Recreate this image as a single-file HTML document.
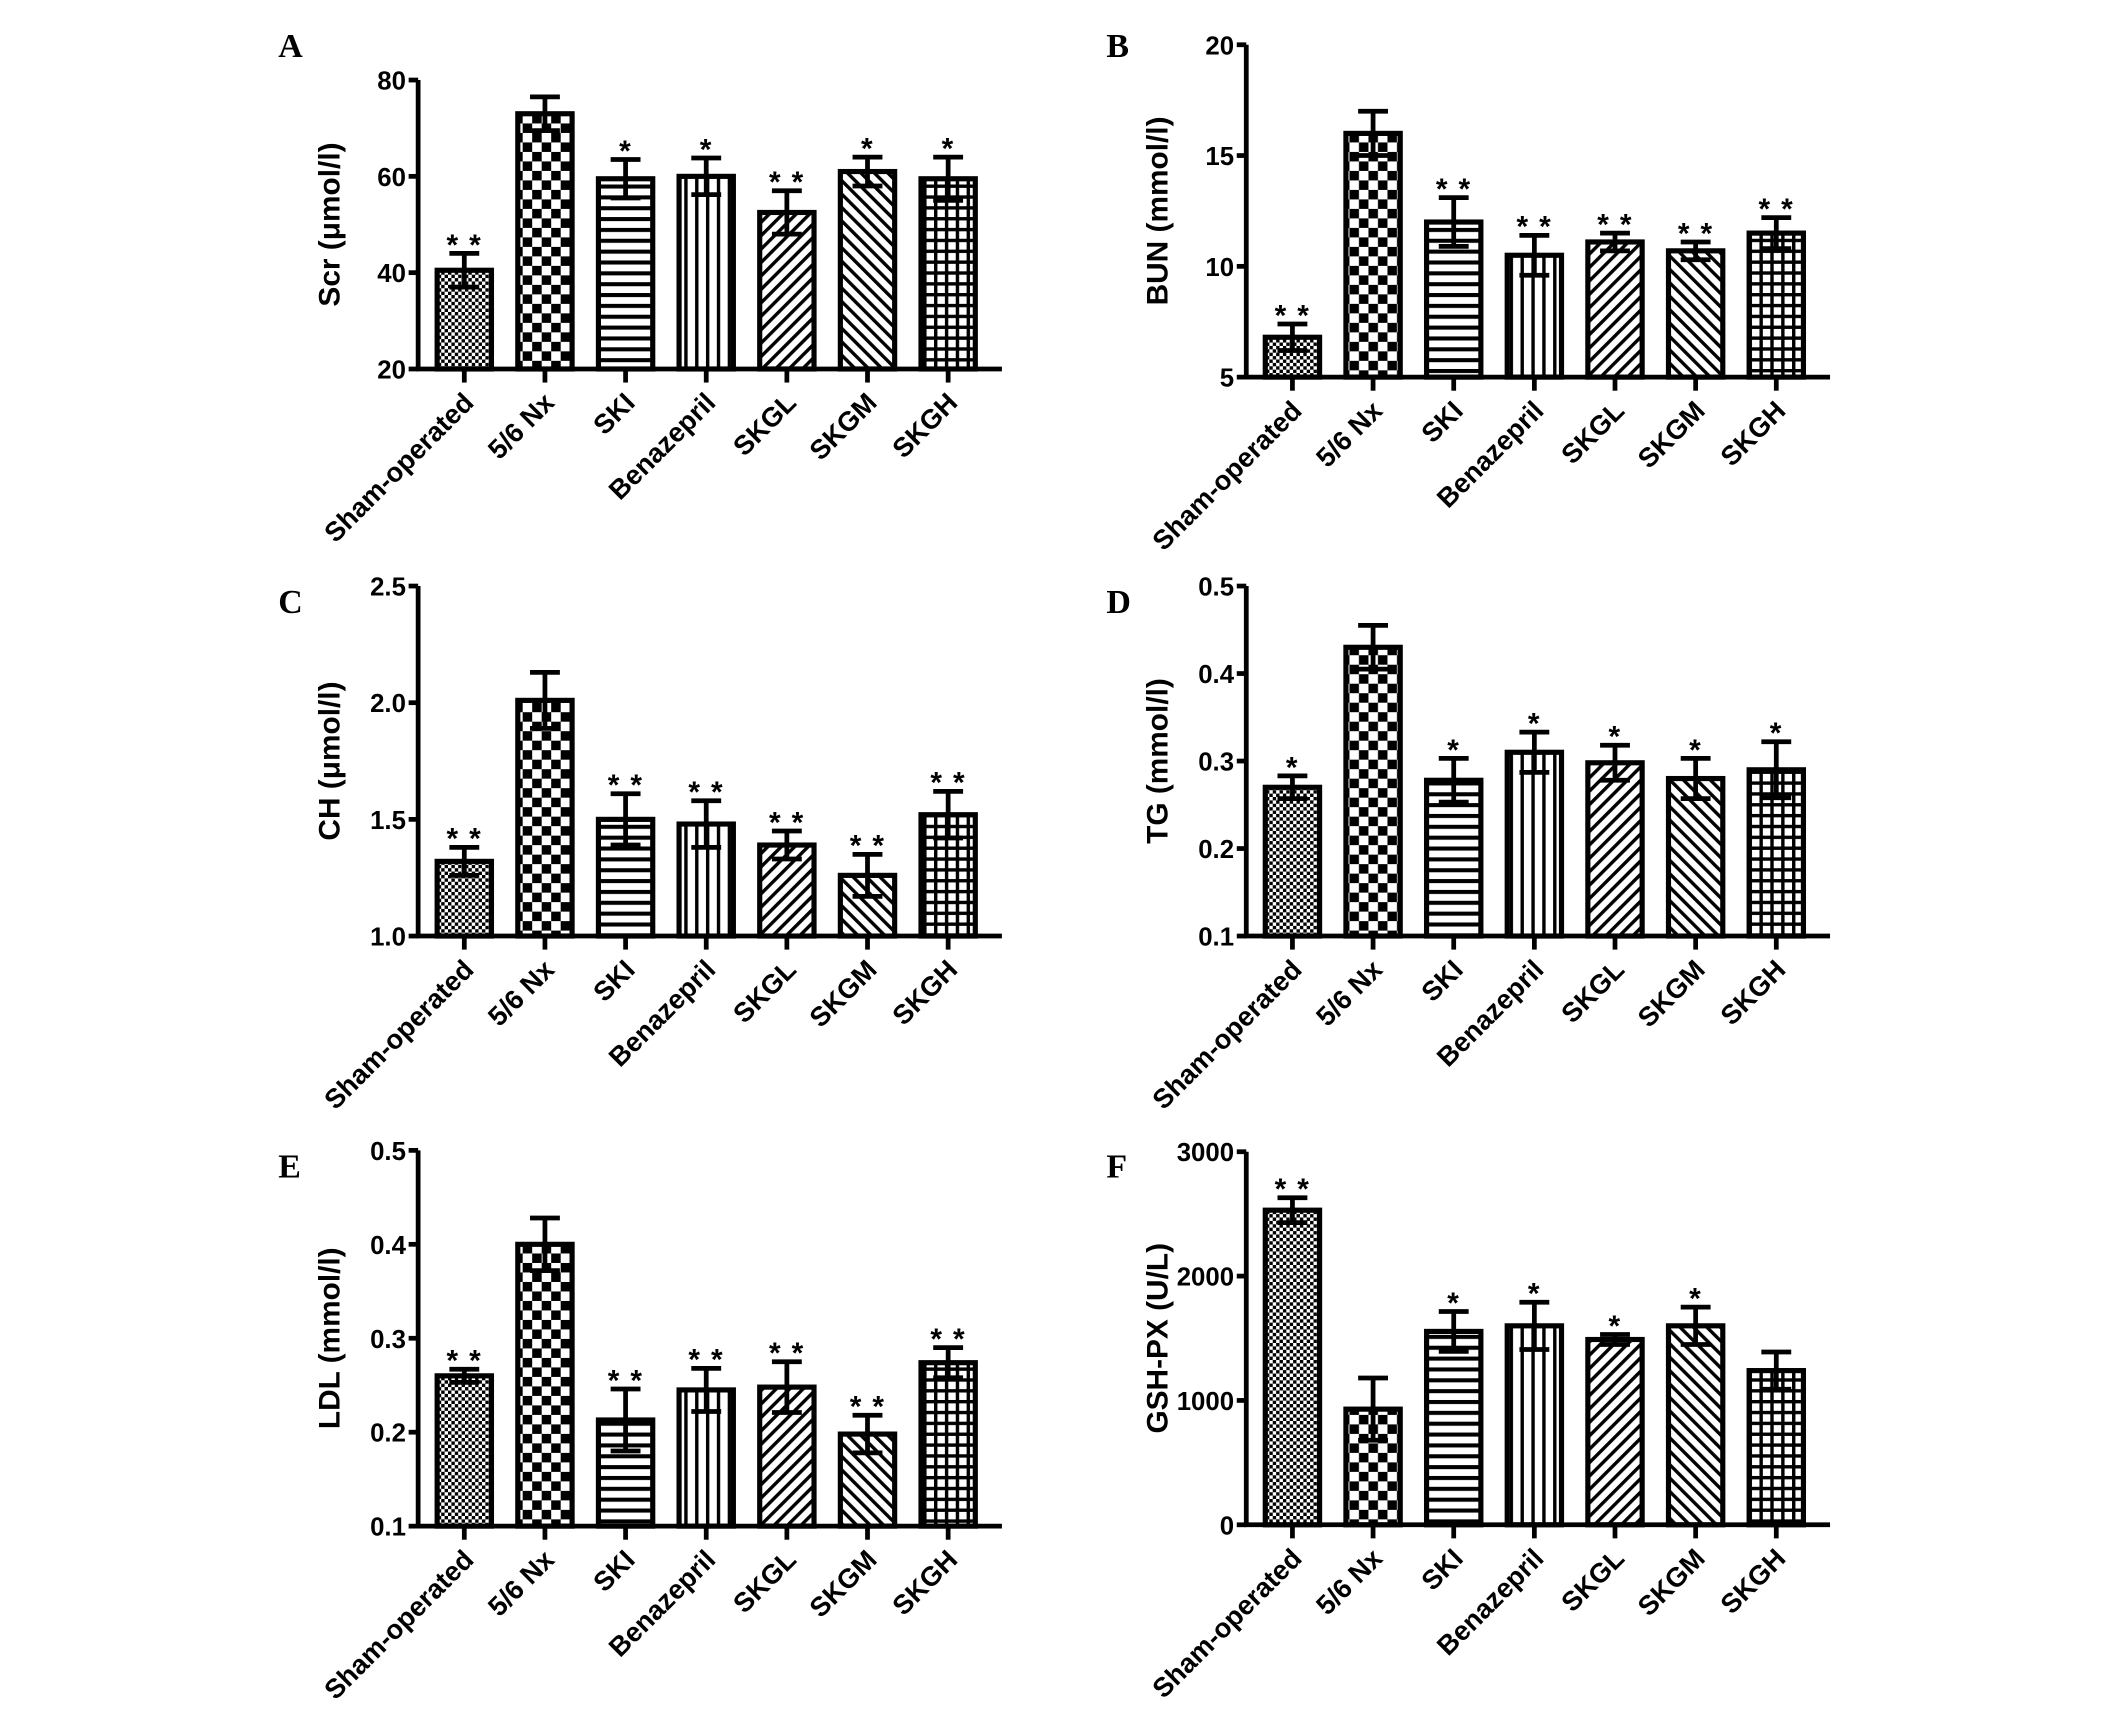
<!DOCTYPE html>
<html><head><meta charset="utf-8"><style>
html,body{margin:0;padding:0;background:#fff}
svg{display:block}
text{font-family:"Liberation Sans",Arial,sans-serif;font-weight:bold;fill:#000}
</style></head><body>
<svg id="fig" width="2126" height="1712" viewBox="0 0 1566 1262" preserveAspectRatio="none" xmlns="http://www.w3.org/2000/svg">
<defs>
<pattern id="p0" width="5" height="5" patternUnits="userSpaceOnUse"><rect width="5" height="5" fill="#fff"/><rect width="2.5" height="2.5" fill="#000"/><rect x="2.5" y="2.5" width="2.5" height="2.5" fill="#000"/></pattern>
<pattern id="p1" width="14" height="14" patternUnits="userSpaceOnUse"><rect width="14" height="14" fill="#fff"/><rect width="7" height="7" fill="#000"/><rect x="7" y="7" width="7" height="7" fill="#000"/></pattern>
<pattern id="p2" width="8" height="8" patternUnits="userSpaceOnUse"><rect width="8" height="8" fill="#fff"/><rect y="0" width="8" height="3" fill="#000"/></pattern>
<pattern id="p3" width="8" height="8" patternUnits="userSpaceOnUse"><rect width="8" height="8" fill="#fff"/><rect x="0" width="2.5" height="8" fill="#000"/></pattern>
<pattern id="p4" width="7" height="7" patternUnits="userSpaceOnUse" patternTransform="rotate(45)"><rect width="7" height="7" fill="#fff"/><rect width="2.5" height="7" fill="#000"/></pattern>
<pattern id="p5" width="7" height="7" patternUnits="userSpaceOnUse" patternTransform="rotate(-45)"><rect width="7" height="7" fill="#fff"/><rect width="2.5" height="7" fill="#000"/></pattern>
<pattern id="p6" width="8" height="8" patternUnits="userSpaceOnUse"><rect width="8" height="8" fill="#fff"/><rect width="8" height="2.5" fill="#000"/><rect width="2.5" height="8" fill="#000"/></pattern>
</defs>
</svg>
<script>
const categories = ["Sham-operated","5/6 Nx","SKI","Benazepril","SKGL","SKGM","SKGH"];
const scrValues = [40.5,73,59.5,60,52.5,61,59.5];
const scrErrors = [3.5,3.5,4,3.8,4.5,3,4.5];
const scrStars = ["**","","*","*","**","*","*"];
const bunValues = [6.8,16,12,10.5,11.1,10.7,11.5];
const bunErrors = [0.6,1,1.1,0.9,0.4,0.4,0.7];
const bunStars = ["**","","**","**","**","**","**"];
const chValues = [1.32,2.01,1.50,1.48,1.39,1.26,1.52];
const chErrors = [0.06,0.12,0.11,0.1,0.06,0.09,0.1];
const chStars = ["**","","**","**","**","**","**"];
const tgValues = [0.27,0.43,0.278,0.31,0.298,0.28,0.29];
const tgErrors = [0.013,0.025,0.025,0.023,0.02,0.023,0.032];
const tgStars = ["*","","*","*","*","*","*"];
const ldlValues = [0.26,0.40,0.213,0.245,0.248,0.198,0.274];
const ldlErrors = [0.007,0.028,0.033,0.023,0.027,0.02,0.016];
const ldlStars = ["**","","**","**","**","**","**"];
const gshValues = [2530,930,1555,1600,1490,1600,1240];
const gshErrors = [100,250,160,190,40,150,150];
const gshStars = ["**","","*","*","*","*",""];
const scrTicks = ["20","40","60","80"];
const bunTicks = ["5","10","15","20"];
const chTicks = ["1.0","1.5","2.0","2.5"];
const tgTicks = ["0.1","0.2","0.3","0.4","0.5"];
const ldlTicks = ["0.1","0.2","0.3","0.4","0.5"];
const gshTicks = ["0","1000","2000","3000"];

const NS="http://www.w3.org/2000/svg";
const svg=document.getElementById('fig');
function mk(tag,attrs,parent,txt){const e=document.createElementNS(NS,tag);for(const k in attrs)e.setAttribute(k,attrs[k]);if(txt!==undefined)e.textContent=txt;(parent||svg).appendChild(e);return e;}

function panel(id,letter,lx,ly,ax,top,bot,ticks,title,vals,errs,stars){
  const g=mk('g',{});
  
  
  const lo=parseFloat(ticks[0]),hi=parseFloat(ticks[ticks.length-1]);
  const y=v=>bot-(v-lo)/(hi-lo)*(bot-top);
  const xc=i=>ax+34+i*59.4;
  const xEnd=ax+430;
  const L=mk('text',{x:lx,y:ly,'font-size':25,style:'font-family:"Liberation Serif",serif'},g,letter);
  
  
  vals.forEach((v,i)=>{
    const w=40,x=xc(i)-w/2;
    const r=mk('rect',{x:x,y:y(v),width:w,height:bot-y(v),fill:'url(#p'+i+')',stroke:'#000','stroke-width':3.8},g);
    
    
    const e=errs[i],t=y(v+e),b=y(v-e);
    const eb=mk('path',{d:`M${xc(i)} ${b}V${t}M${xc(i)-11} ${t}H${xc(i)+11}M${xc(i)-11} ${b}H${xc(i)+11}`,stroke:'#000','stroke-width':3.5,fill:'none'},g);
    
    
    if(stars[i]){
      const s=mk('text',{x:xc(i),y:t+1,'font-size':22,'text-anchor':'middle','letter-spacing':1},g,stars[i]==='**'?'* *':'*');
      
      
    }
    const tk=mk('line',{x1:xc(i),x2:xc(i),y1:bot,y2:bot+10,stroke:'#000','stroke-width':3.5},g);
    
    
    const lb=mk('text',{x:0,y:0,'font-size':20,'text-anchor':'end',transform:`translate(${xc(i)+8},${bot+26}) rotate(-45)`},g,categories[i]);
    
    
  });
  const axes=mk('path',{d:`M${ax} ${top}V${bot}H${xEnd}`,stroke:'#000','stroke-width':3.5,fill:'none'},g);
  
  
  ticks.forEach(t=>{
    const v=parseFloat(t),yy=y(v);
    const tl=mk('line',{x1:ax-7,x2:ax,y1:yy,y2:yy,stroke:'#000','stroke-width':3.5},g);
    
    
    const tx=mk('text',{x:ax-9,y:yy+7,'font-size':19,'text-anchor':'end'},g,t);
    
    
  });
  const yt=mk('text',{x:0,y:0,'font-size':22,'text-anchor':'middle',transform:`translate(${ax-58},${(top+bot)/2}) rotate(-90)`},g,title);
  
  
}
panel('a','A',205,42,308,59,272,scrTicks,'Scr (\u03bcmol/l)',scrValues,scrErrors,scrStars);
panel('b','B',815,42,918,33,278,bunTicks,'BUN (mmol/l)',bunValues,bunErrors,bunStars);
panel('c','C',205,452,308,432,690,chTicks,'CH (\u03bcmol/l)',chValues,chErrors,chStars);
panel('d','D',815,452,918,432,690,tgTicks,'TG (mmol/l)',tgValues,tgErrors,tgStars);
panel('e','E',205,868,308,848,1125,ldlTicks,'LDL (mmol/l)',ldlValues,ldlErrors,ldlStars);
panel('f','F',815,868,918,849,1124,gshTicks,'GSH-PX (U/L)',gshValues,gshErrors,gshStars);
</script>
</body></html>
